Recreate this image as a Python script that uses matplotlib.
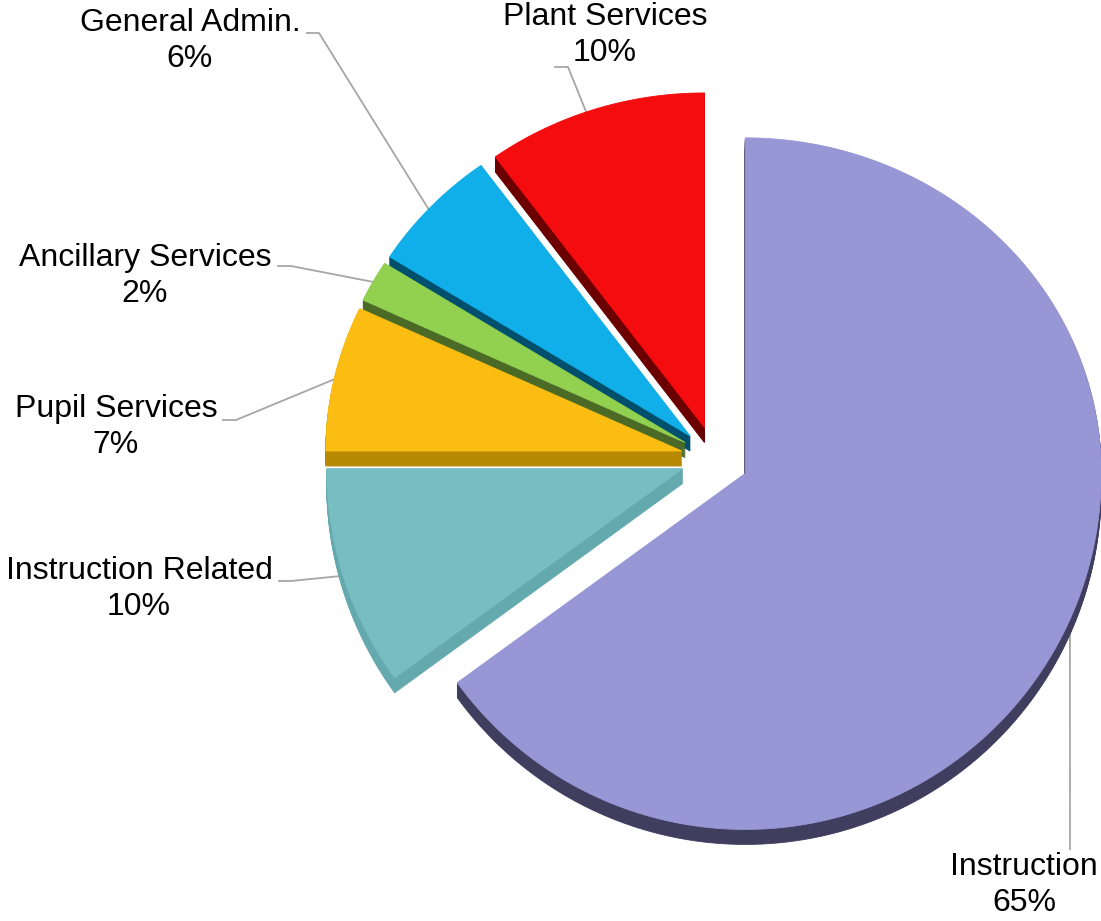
import numpy as np
import matplotlib.pyplot as plt
from matplotlib.patches import Polygon

# expenditure split, clockwise from 12 o'clock
labels = ['Instruction', 'Instruction Related', 'Pupil Services',
          'Ancillary Services', 'General Admin.', 'Plant Services']
shares = [65, 10, 7, 2, 6, 10]
top_colors = ['#9897d6', '#78bdc2', '#fbbd12', '#92d050', '#10afe9', '#f40c0e']
side_colors = ['#3f3e5e', '#64a9ae', '#b78900', '#4a6a26', '#00506d', '#6a0000']

# label block centres, leader line start / bend, and angle where leader hits the rim
label_pos = [(1024, 885), (139, 589), (116, 427), (145, 276), (190, 41), (605, 35)]
leader_start = [(1070, 849), (279, 581), (223, 420), (278, 266), (307, 33), (555, 67)]
leader_bend = [(1070, 849), (291, 581), (236, 420), (291, 266), (319, 33), (568, 67)]
anchor_deg = [-23.5, 197.6, 167.4, 151.2, 137.4, 109.4]

cx, cy = 715, 458
radius = 356
explode = 34
depth = 15
back_squash = 0.94


def to_screen(x, y):
    # pie plane (y up) -> pixels, far half a little flattened for the tilt
    y = np.where(y > 0, y * back_squash, y)
    return cx + x, cy - y


fig = plt.figure(figsize=(11.01, 9.21), dpi=100)
ax = fig.add_axes([0, 0, 1, 1])
ax.set_xlim(0, 1101)
ax.set_ylim(921, 0)
ax.axis('off')

# wedge geometry
wedges = []
start = 90.0
for s in shares:
    sweep = s * 3.6
    t1, t2 = start, start - sweep
    mid = np.radians((t1 + t2) / 2)
    ex, ey = explode * np.cos(mid), explode * np.sin(mid)
    t = np.radians(np.linspace(t1, t2, 200))
    px = np.concatenate([[ex], ex + radius * np.cos(t)])
    py = np.concatenate([[ey], ey + radius * np.sin(t)])
    sx, sy = to_screen(px, py)
    wedges.append((ex, ey, np.column_stack([sx, sy])))
    start = t2

# back slices first so the front ones sit on top
for i in reversed(range(len(shares))):
    ex, ey, pts = wedges[i]
    for k in range(1, depth + 1):
        ax.add_patch(Polygon(pts + [0, k], closed=True, facecolor=side_colors[i],
                             edgecolor=side_colors[i], lw=0.6))
    ax.add_patch(Polygon(pts, closed=True, facecolor=top_colors[i],
                         edgecolor=top_colors[i], lw=0.6))

# labels with leader lines
for i, name in enumerate(labels):
    ex, ey, _ = wedges[i]
    a = np.radians(anchor_deg[i])
    axp, ayp = to_screen(ex + (radius - 2) * np.cos(a), ey + (radius - 2) * np.sin(a))
    xs = [leader_start[i][0], leader_bend[i][0], float(axp)]
    ys = [leader_start[i][1], leader_bend[i][1], float(ayp)]
    ax.plot(xs, ys, color='#a6a6a6', lw=1.3, zorder=0.5)
    ax.text(label_pos[i][0], label_pos[i][1], f'{name}\n{shares[i]}%',
            ha='center', va='center', fontsize=23, family='Liberation Sans',
            linespacing=1.27, color='black')

fig.savefig('out.png', dpi=100)
